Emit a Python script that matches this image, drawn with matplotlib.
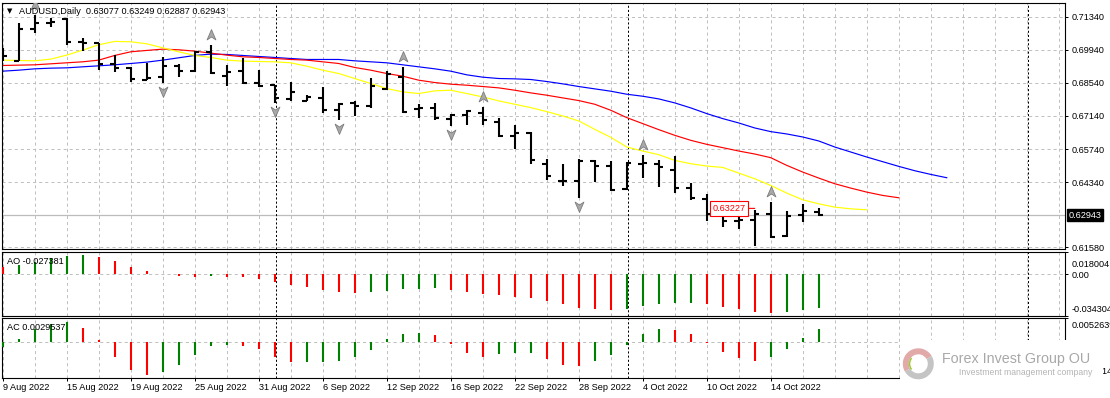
import numpy as np
import matplotlib
matplotlib.use("Agg")
import matplotlib.pyplot as plt
import matplotlib.transforms as mtransforms
from matplotlib.path import Path
from matplotlib.patches import Wedge

plt.rcParams['font.family'] = ['Liberation Sans', 'DejaVu Sans']
plt.rcParams['font.size'] = 6.6
plt.rcParams['lines.scale_dashes'] = False

symbol = "AUDUSD,Daily"

# daily bars 9 Aug 2022 .. 19 Oct 2022
opens = [0.69615, 0.69473, 0.70817, 0.71085, 0.71241, 0.70265, 0.70209, 0.69318, 0.69148, 0.68681,
         0.68795, 0.69247, 0.69049, 0.69827, 0.68823, 0.69035, 0.6854, 0.68441, 0.67847, 0.67791,
         0.67918, 0.67409, 0.67692, 0.6755, 0.68271, 0.68795, 0.67423, 0.67494, 0.67027, 0.67168,
         0.67282, 0.66886, 0.66278, 0.66433, 0.65118, 0.64368, 0.64383, 0.65231, 0.65019, 0.64029,
         0.65104, 0.65118, 0.64863, 0.64086, 0.63633, 0.62954, 0.627, 0.62756, 0.62997, 0.62049,
         0.62954, 0.63077]
highs = [0.69997, 0.71085, 0.71411, 0.71269, 0.71269, 0.70421, 0.70237, 0.69714, 0.69219, 0.6936,
         0.69643, 0.69332, 0.69898, 0.70138, 0.6929, 0.69572, 0.69077, 0.68469, 0.68583, 0.68017,
         0.6837, 0.67692, 0.67762, 0.68766, 0.69049, 0.69219, 0.67635, 0.67692, 0.67239, 0.67381,
         0.67522, 0.67069, 0.66744, 0.66461, 0.6533, 0.65118, 0.6533, 0.65259, 0.65217, 0.65189,
         0.65472, 0.65259, 0.65429, 0.64312, 0.63817, 0.63209, 0.62997, 0.63138, 0.63492, 0.6311,
         0.63393, 0.63249]
lows = [0.69473, 0.69473, 0.70661, 0.70916, 0.70138, 0.69898, 0.69077, 0.69007, 0.68583, 0.68653,
        0.68554, 0.68795, 0.69007, 0.68936, 0.68399, 0.68484, 0.6837, 0.67706, 0.67777, 0.67777,
        0.67282, 0.66985, 0.6714, 0.67494, 0.68257, 0.67282, 0.67069, 0.66985, 0.66702, 0.66744,
        0.66773, 0.66249, 0.65754, 0.65118, 0.64411, 0.64156, 0.63661, 0.6434, 0.63944, 0.63987,
        0.6451, 0.64128, 0.63874, 0.63562, 0.62714, 0.62431, 0.62361, 0.61653, 0.61979, 0.62035,
        0.62643, 0.62887]
closes = [0.69671, 0.70817, 0.71085, 0.71114, 0.70279, 0.70237, 0.69318, 0.69148, 0.68696, 0.68738,
          0.69247, 0.69049, 0.69827, 0.68964, 0.69007, 0.6854, 0.68427, 0.67904, 0.68158, 0.67932,
          0.67409, 0.67663, 0.6755, 0.68399, 0.68908, 0.6731, 0.67494, 0.67055, 0.67197, 0.67338,
          0.66956, 0.66278, 0.66433, 0.65259, 0.64581, 0.64397, 0.65231, 0.65019, 0.64015, 0.65146,
          0.65132, 0.64977, 0.64086, 0.63661, 0.62997, 0.62714, 0.62728, 0.62997, 0.62035, 0.62898,
          0.63096, 0.62943]

# alligator lines, as drawn (jaw/teeth/lips already shifted ahead)
jaw = [0.69035, 0.69077, 0.69134, 0.69162, 0.69176, 0.69219, 0.69261, 0.69304, 0.6936, 0.69417,
       0.69502, 0.69601, 0.6970, 0.69756, 0.69742, 0.6970, 0.69657, 0.69615, 0.69572, 0.6953,
       0.6953, 0.6953, 0.69473, 0.69431, 0.69389, 0.69304, 0.69219, 0.69134, 0.69035, 0.6888,
       0.68781, 0.68724, 0.6871, 0.68682, 0.68597, 0.68498, 0.68385, 0.68286, 0.68187, 0.68059,
       0.67974, 0.67861, 0.67692, 0.6748, 0.67239, 0.67027, 0.66843, 0.66631, 0.66476, 0.66377,
       0.66249, 0.6608, 0.65825, 0.65613, 0.65401, 0.65203, 0.65005, 0.64821, 0.64665, 0.64524]
teeth = [0.69275, 0.6929, 0.69304, 0.69346, 0.69389, 0.69431, 0.69502, 0.6970, 0.69855, 0.69912,
         0.69968, 0.6994, 0.69883, 0.69799, 0.69714, 0.69643, 0.69615, 0.69572, 0.6953, 0.69502,
         0.69431, 0.6936, 0.69191, 0.69077, 0.68936, 0.68823, 0.68653, 0.68554, 0.68484, 0.68441,
         0.68385, 0.68328, 0.68229, 0.68116, 0.68017, 0.67904, 0.67791, 0.67635, 0.67381, 0.67069,
         0.66815, 0.6656, 0.6632, 0.66108, 0.65938, 0.65797, 0.65655, 0.65528, 0.65373, 0.65047,
         0.64764, 0.6451, 0.6427, 0.64086, 0.63916, 0.63775, 0.63676]
lips = [0.69502, 0.69488, 0.69473, 0.69544, 0.69714, 0.69926, 0.70152, 0.70294, 0.70279, 0.70195,
        0.70025, 0.69855, 0.6970, 0.69615, 0.69502, 0.69459, 0.69445, 0.69431, 0.69389, 0.69247,
        0.69077, 0.68936, 0.68724, 0.68512, 0.683, 0.68158, 0.68088, 0.68201, 0.68229, 0.68088,
        0.67946, 0.67777, 0.67635, 0.67494, 0.67324, 0.6714, 0.66928, 0.66575, 0.66235, 0.65825,
        0.65655, 0.655, 0.65259, 0.65118, 0.65019, 0.64962, 0.64722, 0.64482, 0.64199, 0.63874,
        0.63591, 0.63421, 0.6328, 0.63209, 0.63167]

frac_up = [2, 13, 25, 30, 40, 48]
frac_dn = [10, 17, 21, 28, 36, 47]

ao = [0.00572, 0.00763, 0.01035, 0.01308, 0.01526, 0.0158, 0.01417, 0.0109, 0.00627, 0.00272,
      0.00054, -0.0017, -0.0021, -0.0014, -0.0022, -0.0024, -0.00381, -0.00599, -0.00845, -0.01035,
      -0.0128, -0.01444, -0.01526, -0.0150, -0.01362, -0.01199, -0.0118, -0.01117, -0.0128, -0.01444,
      -0.01607, -0.01689, -0.0188, -0.01934, -0.0218, -0.02479, -0.02752, -0.02833, -0.02915, -0.02833,
      -0.02588, -0.02425, -0.02343, -0.0233, -0.02425, -0.0267, -0.02861, -0.03079, -0.0316, -0.03079,
      -0.02942, -0.027381]
ao_colors = "rgggggrrrrrrrgrrrrrrrrrgggggrrrrrrrrrrrgggggrrrrrggg"
ac = [-0.00118, 0.00074, 0.00281, 0.0040, 0.00452, 0.00311, 0.00044, -0.00326, -0.00622, -0.00725,
      -0.00666, -0.00511, -0.00281, -0.00089, -0.00067, -0.00089, -0.00155, -0.00326, -0.0045, -0.00443,
      -0.00437, -0.00422, -0.00333, -0.00178, 0.00074, 0.00178, 0.00207, 0.00155, -0.00044, -0.00237,
      -0.00333, -0.00259, -0.00252, -0.00237, -0.00378, -0.00511, -0.00533, -0.00422, -0.00289, -0.00067,
      0.00178, 0.00289, 0.00267, 0.00178, -0.00015, -0.00215, -0.00355, -0.00422, -0.00333, -0.00155,
      0.00089, 0.0029537]
ac_colors = "gggggrrrrrgggggrrrrggggggggrrrrgggrrrgggggrrrrrrgggg"

date_labels = ["9 Aug 2022", "15 Aug 2022", "19 Aug 2022", "25 Aug 2022", "31 Aug 2022",
               "6 Sep 2022", "12 Sep 2022", "16 Sep 2022", "22 Sep 2022", "28 Sep 2022",
               "4 Oct 2022", "10 Oct 2022", "14 Oct 2022"]
date_bars = list(range(0, 52, 4))

price_ticks = [0.7134, 0.6994, 0.6854, 0.6714, 0.6574, 0.6434, 0.6158]
ao_ticks = [0.018004, 0.0, -0.034304]
ac_ticks = [0.0052639, 0.0, -0.0079143]

month_seps = [17, 39, 64]
label_price = 0.63227
label_bar = 47

GRID = '#c0c0c0'
GREEN = '#008000'
RED = '#ff0000'
W, H = 1110, 398

fig = plt.figure(figsize=(W / 100, H / 100), dpi=100, facecolor='white')


def add_panel(top, bottom):
    return fig.add_axes([2.3 / W, 1 - bottom / H, (1065 - 2.3) / W, (bottom - top) / H])


def nudge(lbl, dy):
    lbl.set_transform(lbl.get_transform() + mtransforms.ScaledTranslation(0, dy / 100, fig.dpi_scale_trans))


ax = add_panel(2.7, 249.3)
ao_ax = add_panel(252.3, 316)
ac_ax = add_panel(318.3, 377.7)

for a in (ax, ao_ax, ac_ax):
    a.set_xlim(-0.025, 66.39)
    a.set_xticks(np.arange(0, 67, 2), minor=True)
    a.set_xticks(date_bars)
    a.grid(True, axis='x', which='both', color=GRID, lw=0.72, ls=(0, (2.2, 2.2)))
    a.yaxis.tick_right()
    a.tick_params(axis='y', length=2.5, width=0.72, pad=2, labelsize=6.6)
    a.tick_params(axis='x', which='minor', length=0)
    for s in a.spines.values():
        s.set_linewidth(0.8)
    for s in month_seps:
        a.axvline(s + 0.06, color='black', lw=0.72, ls=(0, (1.5, 1.5)), zorder=1.5)

ax.tick_params(axis='x', which='major', length=0, labelbottom=False)
ao_ax.tick_params(axis='x', which='major', length=0, labelbottom=False)
ac_ax.set_xticklabels(date_labels)
for t in ac_ax.get_xticklabels():
    t.set_ha('left')
ac_ax.tick_params(axis='x', which='major', length=2.5, width=0.72, pad=1.5, labelsize=6.6)

# ---- price panel ----
x = np.arange(len(closes))
ax.set_ylim(0.61495, 0.71933)
ax.set_yticks(price_ticks)
ax.set_yticklabels([f"{p:.5f}" for p in price_ticks])
ax.grid(True, axis='y', color=GRID, lw=0.72, ls=(0, (2.2, 2.2)))
ax.axhline(closes[-1], color='#bcbcbc', lw=0.9, zorder=1)

ax.plot(np.arange(len(jaw)), jaw, color='#0000ff', lw=0.85, zorder=2)
ax.plot(np.arange(len(teeth)), teeth, color=RED, lw=0.85, zorder=2)
ax.plot(np.arange(len(lips)), lips, color='#ffff00', lw=0.85, zorder=2)

ax.vlines(x, lows, highs, color='black', lw=1.5, zorder=3)
ax.hlines(opens, x - 0.28, x, color='black', lw=1.5, zorder=3)
ax.hlines(closes, x, x + 0.28, color='black', lw=1.5, zorder=3)

up_arrow = Path([(0, 1), (0.75, -0.75), (0, -0.25), (-0.75, -0.75), (0, 1)],
                [Path.MOVETO, Path.LINETO, Path.LINETO, Path.LINETO, Path.CLOSEPOLY])
dn_arrow = Path([(0, -1), (0.75, 0.75), (0, 0.25), (-0.75, 0.75), (0, -1)],
                [Path.MOVETO, Path.LINETO, Path.LINETO, Path.LINETO, Path.CLOSEPOLY])
up_tr = ax.transData + mtransforms.ScaledTranslation(0, 0.10, fig.dpi_scale_trans)
dn_tr = ax.transData + mtransforms.ScaledTranslation(0, -0.08, fig.dpi_scale_trans)
ax.plot(frac_up, [highs[i] for i in frac_up], ls='none', marker=up_arrow, ms=8.5,
        mfc='#a9a9a9', mec='#7c7c7c', mew=0.6, transform=up_tr, zorder=4)
ax.plot(frac_dn, [lows[i] for i in frac_dn], ls='none', marker=dn_arrow, ms=8.5,
        mfc='#a9a9a9', mec='#7c7c7c', mew=0.6, transform=dn_tr, zorder=4)

ax.annotate(f"{label_price:.5f}", xy=(label_bar, label_price), xytext=(-9, 0),
            textcoords='offset pixels', ha='right', va='center', color=RED, fontsize=6.6,
            bbox=dict(boxstyle='square,pad=0.3', fc='white', ec=RED, lw=0.8),
            arrowprops=dict(arrowstyle='-', color=RED, lw=0.8, shrinkA=0, shrinkB=0), zorder=5)

cur_tr = mtransforms.blended_transform_factory(ax.transAxes, ax.transData) + \
    mtransforms.ScaledTranslation(0.035, 0, fig.dpi_scale_trans)
ax.text(1.0, closes[-1], f"{closes[-1]:.5f}", transform=cur_tr, ha='left', va='center',
        color='white', fontsize=6.6, clip_on=False,
        bbox=dict(boxstyle='square,pad=0.2', fc='black', ec='black'))

# ---- AO / AC panels ----
ao_ax.vlines(x, 0, ao, colors=[GREEN if c == 'g' else RED for c in ao_colors], lw=1.5, zorder=3)
ao_ax.axhline(0, color=GRID, lw=0.72, ls=(0, (2.2, 2.2)))
ao_ax.set_ylim(ao_ticks[2], ao_ticks[0])
ao_ax.set_yticks(ao_ticks)
ao_ax.set_yticklabels([f"{ao_ticks[0]:.6f}", "0.00", f"{ao_ticks[2]:.6f}"])

ac_ax.vlines(x, 0, ac, colors=[GREEN if c == 'g' else RED for c in ac_colors], lw=1.5, zorder=3)
ac_ax.axhline(0, color=GRID, lw=0.72, ls=(0, (2.2, 2.2)))
ac_ax.set_ylim(ac_ticks[2], ac_ticks[0])
ac_ax.set_yticks(ac_ticks)
ac_ax.set_yticklabels([f"{ac_ticks[0]:.7f}", "0.00", f"{ac_ticks[2]:.7f}"])

for a, top_dy in ((ao_ax, -8), (ac_ax, -3)):
    lbls = a.get_yticklabels()
    lbls[0].set_va('top')
    nudge(lbls[0], top_dy)
    lbls[2].set_va('bottom')
    nudge(lbls[2], 2)

# ---- texts ----
fig.text(9.3 / W, 1 - 11 / H, "\u25bc", fontsize=5, family=['DejaVu Sans'], ha='center', va='center')
fig.text(19 / W, 1 - 11 / H,
         f"{symbol}  {opens[-1]:.5f} {highs[-1]:.5f} {lows[-1]:.5f} {closes[-1]:.5f}",
         ha='left', va='center', fontsize=6.6)
fig.text(7.3 / W, 1 - 262 / H, f"AO {ao[-1]:.6f}", ha='left', va='center', fontsize=6.6)
fig.text(7.3 / W, 1 - 327 / H, f"AC {ac[-1]:.7f}", ha='left', va='center', fontsize=6.6)

# ---- watermark logo ----
lg = fig.add_axes([900 / W, 0, 203 / W, 58 / H], zorder=10, facecolor='white')
lg.set_xlim(0, 203)
lg.set_ylim(58, 0)
lg.set_xticks([])
lg.set_yticks([])
for s in lg.spines.values():
    s.set_visible(False)
lg.add_patch(Wedge((18.3, 23.8), 15.5, 150, 330, width=6, fc='#e2a9a9', ec='none'))
lg.add_patch(Wedge((18.3, 23.8), 15.5, 330, 150, width=6, fc='#c4c4c4', ec='none'))
lg.add_patch(Wedge((18.3, 23.8), 9.5, 140, 220, width=1.5, fc='#9acd32', ec='none'))
lg.text(42, 19.5, "Forex Invest Group OU", ha='left', va='center', fontsize=10.3,
        color='#a8a8a8')
lg.text(59, 32.5, "Investment management company", ha='left', va='center', fontsize=6.2,
        color='#b4b4b4')

fig.savefig("out.png", dpi=100, facecolor='white')
